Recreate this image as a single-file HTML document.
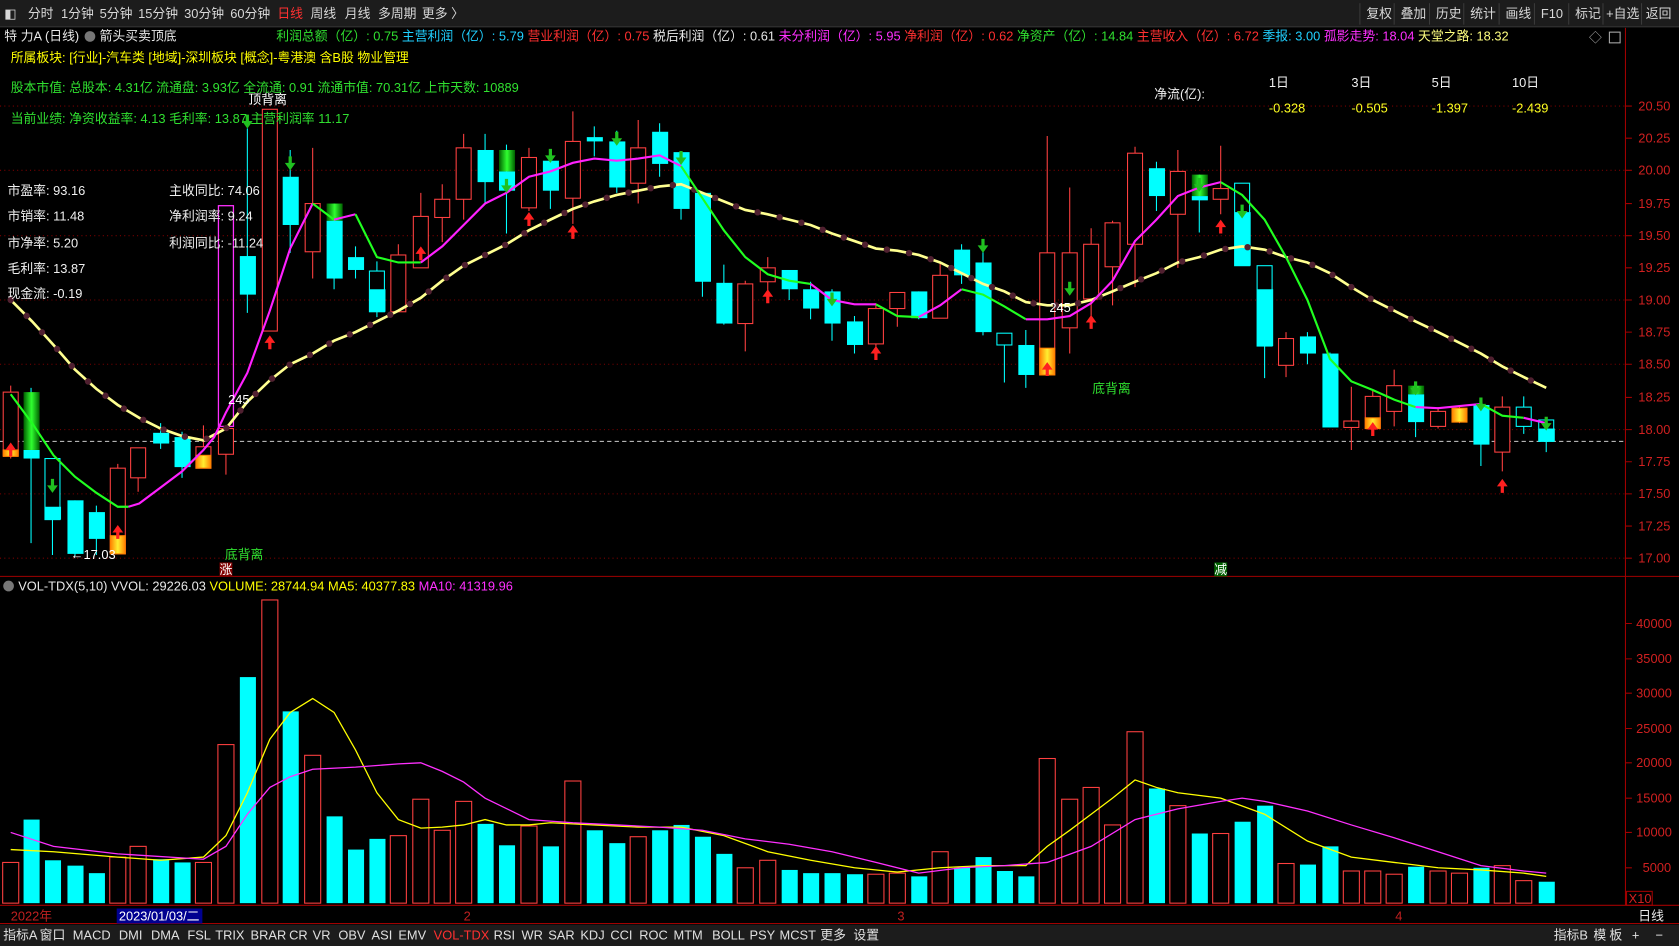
<!DOCTYPE html>
<html><head><meta charset="utf-8">
<style>
html,body{margin:0;padding:0;background:#000;overflow:hidden}
svg{display:block}
text{font-family:"Liberation Sans","Noto Sans CJK SC",sans-serif;font-size:12px}
</style></head>
<body>
<svg width="1679" height="946" viewBox="0 0 1568 883" preserveAspectRatio="none" xmlns="http://www.w3.org/2000/svg">
<defs>
<linearGradient id="gg" x1="0" y1="0" x2="1" y2="0"><stop offset="0" stop-color="#006000"/><stop offset="0.5" stop-color="#30ff30"/><stop offset="1" stop-color="#006000"/></linearGradient>
<linearGradient id="og" x1="0" y1="0" x2="1" y2="0"><stop offset="0" stop-color="#ff8000"/><stop offset="0.5" stop-color="#ffee30"/><stop offset="1" stop-color="#ff8000"/></linearGradient>
</defs>
<rect width="1568" height="883" fill="#000"/>
<!-- top toolbar -->
<rect x="0" y="0" width="1568" height="25" fill="#1c1c1c"/>
<line x1="0" y1="25" x2="1568" y2="25" stroke="#333"/>
<g fill="#d8d8d8">
<text x="4" y="17">◧</text>
<text x="26" y="17">分时</text><text x="57" y="17">1分钟</text><text x="93" y="17">5分钟</text><text x="129" y="17">15分钟</text><text x="172" y="17">30分钟</text><text x="215" y="17">60分钟</text>
<text x="259" y="17" fill="#ff3030">日线</text><text x="290" y="17">周线</text><text x="322" y="17">月线</text><text x="353" y="17">多周期</text><text x="394" y="17">更多 〉</text>
<text x="1276" y="17">复权</text><text x="1308" y="17">叠加</text><text x="1341" y="17">历史</text><text x="1373" y="17">统计</text><text x="1406" y="17">画线</text><text x="1439" y="17">F10</text><text x="1471" y="17">标记</text><text x="1500" y="17">+自选</text><text x="1537" y="17">返回</text>
</g>
<g stroke="#3a3a3a"><line x1="1270" y1="3" x2="1270" y2="23"/><line x1="1302" y1="3" x2="1302" y2="23"/><line x1="1335" y1="3" x2="1335" y2="23"/><line x1="1367" y1="3" x2="1367" y2="23"/><line x1="1400" y1="3" x2="1400" y2="23"/><line x1="1433" y1="3" x2="1433" y2="23"/><line x1="1465" y1="3" x2="1465" y2="23"/><line x1="1497" y1="3" x2="1497" y2="23"/><line x1="1533" y1="3" x2="1533" y2="23"/></g>

<!-- grid -->
<path d="M0,99H1518M0,159H1518M0,220H1518M0,280H1518M0,340H1518M0,401H1518M0,461H1518M0,521H1518" stroke="#7a0000" stroke-dasharray="1,3"/>
<line x1="0" y1="412" x2="1518" y2="412" stroke="#ccc" stroke-dasharray="4,3"/>
<line x1="1518" y1="26" x2="1518" y2="845" stroke="#a00000"/>
<line x1="0" y1="538" x2="1568" y2="538" stroke="#a00000"/>
<line x1="0" y1="845" x2="1568" y2="845" stroke="#a00000"/>
<line x1="0" y1="862" x2="1568" y2="862" stroke="#a00000"/>
<path d="M1518,99h6M1518,129h6M1518,159h6M1518,190h6M1518,220h6M1518,250h6M1518,280h6M1518,310h6M1518,340h6M1518,371h6M1518,401h6M1518,431h6M1518,461h6M1518,491h6M1518,521h6M1518,582h6M1518,615h6M1518,647h6M1518,680h6M1518,712h6M1518,745h6M1518,777h6M1518,810h6" stroke="#a00000"/>
<g fill="#d02020">
<text x="1530" y="103">20.50</text><text x="1530" y="133">20.25</text><text x="1530" y="163">20.00</text><text x="1530" y="194">19.75</text><text x="1530" y="224">19.50</text><text x="1530" y="254">19.25</text><text x="1530" y="284">19.00</text><text x="1530" y="314">18.75</text><text x="1530" y="344">18.50</text><text x="1530" y="375">18.25</text><text x="1530" y="405">18.00</text><text x="1530" y="435">17.75</text><text x="1530" y="465">17.50</text><text x="1530" y="495">17.25</text><text x="1530" y="525">17.00</text>
<text x="1528" y="586">40000</text><text x="1528" y="619">35000</text><text x="1528" y="651">30000</text><text x="1528" y="684">25000</text><text x="1528" y="716">20000</text><text x="1528" y="749">15000</text><text x="1528" y="781">10000</text><text x="1534" y="814">5000</text>
</g>

<!-- volume bars -->
<g fill="none" stroke="#ff4040">
<rect x="2.5" y="805" width="15" height="38"/><rect x="102.5" y="800" width="15" height="43"/><rect x="121.5" y="790" width="15" height="53"/><rect x="182.5" y="805" width="15" height="38"/><rect x="203.5" y="695" width="15" height="148"/><rect x="244.5" y="560" width="15" height="283"/><rect x="284.5" y="705" width="15" height="138"/><rect x="364.5" y="780" width="15" height="63"/><rect x="385.5" y="746" width="15" height="97"/><rect x="405.5" y="775" width="15" height="68"/><rect x="425.5" y="748" width="15" height="95"/><rect x="486.5" y="771" width="15" height="72"/><rect x="527.5" y="729" width="15" height="114"/><rect x="588.5" y="781" width="15" height="62"/><rect x="688.5" y="810" width="15" height="33"/><rect x="709.5" y="803" width="15" height="40"/><rect x="810.5" y="816" width="15" height="27"/><rect x="830.5" y="815" width="15" height="28"/><rect x="870.5" y="795" width="15" height="48"/><rect x="970.5" y="708" width="15" height="135"/><rect x="991.5" y="746" width="15" height="97"/><rect x="1011.5" y="735" width="15" height="108"/><rect x="1031.5" y="770" width="15" height="73"/><rect x="1052.5" y="683" width="15" height="160"/><rect x="1092.5" y="752" width="15" height="91"/><rect x="1132.5" y="778" width="15" height="65"/><rect x="1193.5" y="806" width="15" height="37"/><rect x="1254.5" y="813" width="15" height="30"/><rect x="1274.5" y="813" width="15" height="30"/><rect x="1294.5" y="816" width="15" height="27"/><rect x="1335.5" y="813" width="15" height="30"/><rect x="1355.5" y="815" width="15" height="28"/><rect x="1395.5" y="808" width="15" height="35"/><rect x="1415.5" y="822" width="15" height="21"/>
</g>
<g fill="#00ffff">
<rect x="22" y="765" width="15" height="78"/><rect x="42" y="803" width="15" height="40"/><rect x="63" y="808" width="15" height="35"/><rect x="83" y="815" width="15" height="28"/><rect x="143" y="802" width="15" height="41"/><rect x="163" y="805" width="15" height="38"/><rect x="224" y="632" width="15" height="211"/><rect x="264" y="664" width="15" height="179"/><rect x="305" y="762" width="15" height="81"/><rect x="325" y="793" width="15" height="50"/><rect x="345" y="783" width="15" height="60"/><rect x="446" y="769" width="15" height="74"/><rect x="466" y="789" width="15" height="54"/><rect x="507" y="790" width="15" height="53"/><rect x="548" y="775" width="15" height="68"/><rect x="569" y="787" width="15" height="56"/><rect x="609" y="775" width="15" height="68"/><rect x="629" y="770" width="15" height="73"/><rect x="649" y="781" width="15" height="62"/><rect x="669" y="797" width="15" height="46"/><rect x="730" y="812" width="15" height="31"/><rect x="750" y="815" width="15" height="28"/><rect x="770" y="815" width="15" height="28"/><rect x="791" y="816" width="15" height="27"/><rect x="851" y="818" width="15" height="25"/><rect x="891" y="810" width="15" height="33"/><rect x="911" y="800" width="15" height="43"/><rect x="931" y="813" width="15" height="30"/><rect x="951" y="818" width="15" height="25"/><rect x="1073" y="736" width="15" height="107"/><rect x="1113" y="778" width="15" height="65"/><rect x="1153" y="767" width="15" height="76"/><rect x="1174" y="752" width="15" height="91"/><rect x="1214" y="807" width="15" height="36"/><rect x="1235" y="790" width="15" height="53"/><rect x="1315" y="809" width="15" height="34"/><rect x="1376" y="810" width="15" height="33"/><rect x="1437" y="823" width="15" height="20"/>
</g>
<polyline fill="none" stroke="#ffff00" stroke-width="1.2" points="10,793 50,795 110,800 150,803 190,800 211,780 231,740 252,690 271,665 292,652 312,665 332,700 352,740 372,765 393,773 413,772 433,770 453,765 473,770 494,770 514,768 555,770 596,772 636,772 676,780 717,795 757,803 798,810 838,814 878,810 918,808 958,808 978,790 999,775 1019,760 1039,745 1060,728 1080,735 1100,740 1140,745 1181,760 1221,785 1262,800 1302,805 1343,810 1383,812 1423,815 1444,818"/>
<polyline fill="none" stroke="#ff30ff" stroke-width="1.2" points="10,777 50,790 110,797 190,802 211,790 231,760 252,735 271,725 292,718 332,716 372,713 393,712 413,720 433,730 453,745 494,765 535,768 576,770 616,772 656,775 696,783 737,788 777,795 818,805 858,815 898,810 938,808 978,805 1019,790 1060,765 1100,755 1140,748 1160,745 1181,748 1221,757 1262,770 1302,782 1343,795 1383,808 1423,813 1444,815"/>

<!-- magenta overlay box -->
<rect x="204" y="192" width="14" height="206" fill="none" stroke="#ff30ff" stroke-width="1.2"/>

<!-- wicks -->
<path stroke="#ff4040" fill="none" d="M10,360V428M110,433V517M129,418V459M190,397V437M211,397V443M252,102V309M292,138V260M372,228V291M393,180V250M413,172V226M433,125V205M494,138V197M535,104V209M596,112V190M696,262V328M717,240V280M818,283V330M838,273V305M878,245V297M978,127V350M999,175V330M1019,213V300M1039,206V285M1060,137V268M1100,140V250M1140,136V200M1201,310V352M1262,361V420M1282,365V405M1302,345V398M1343,380V400M1403,370V440M1363,378V395"/>
<path stroke="#00ffff" fill="none" d="M29,362V507M49,428V518M70,467V519M90,472V518M150,395V419M170,403V446M231,120V292M271,140V236M312,190V270M332,230V260M352,244V296M453,125V190M473,135V218M514,145V195M555,118V146M576,122V180M616,115V165M636,142V205M656,180V277M676,247V303M737,252V280M757,263V298M777,270V318M798,295V330M858,272V298M898,228V265M918,230V313M938,311V357M958,308V362M1080,151V197M1120,163V217M1160,171V248M1181,248V353M1221,310V340M1242,329V399M1322,358V408M1383,371V435M1423,370V405M1444,390V422"/>

<!-- red candles -->
<g fill="#000" stroke="#ff4040">
<rect x="3" y="366" width="14" height="59"/><rect x="103" y="437" width="14" height="80"/><rect x="122" y="418" width="14" height="28"/><rect x="183" y="417" width="14" height="20"/><rect x="204" y="400" width="14" height="24"/><rect x="245" y="102" width="14" height="207"/><rect x="285" y="190" width="14" height="45"/><rect x="365" y="238" width="14" height="53"/><rect x="386" y="202" width="14" height="48"/><rect x="406" y="186" width="14" height="17"/><rect x="426" y="138" width="14" height="48"/><rect x="487" y="147" width="14" height="47"/><rect x="528" y="132" width="14" height="53"/><rect x="589" y="138" width="14" height="33"/><rect x="689" y="265" width="14" height="37"/><rect x="710" y="250" width="14" height="13"/><rect x="811" y="288" width="14" height="33"/><rect x="831" y="273" width="14" height="15"/><rect x="871" y="257" width="14" height="40"/><rect x="971" y="236" width="14" height="114"/><rect x="992" y="236" width="14" height="70"/><rect x="1012" y="228" width="14" height="51"/><rect x="1032" y="208" width="14" height="41"/><rect x="1053" y="143" width="14" height="85"/><rect x="1093" y="160" width="14" height="40"/><rect x="1133" y="176" width="14" height="10"/><rect x="1194" y="316" width="14" height="25"/><rect x="1255" y="393" width="14" height="6"/><rect x="1275" y="370" width="14" height="30"/><rect x="1295" y="360" width="14" height="24"/><rect x="1336" y="384" width="14" height="14"/><rect x="1396" y="380" width="14" height="42"/>
</g>
<!-- orange -->
<g fill="url(#og)" stroke="#ff8000">
<rect x="3" y="420" width="14" height="6"/><rect x="103" y="500" width="14" height="17"/><rect x="183" y="425" width="14" height="12"/><rect x="971" y="325" width="14" height="25"/><rect x="1275" y="390" width="14" height="10"/><rect x="1356" y="381" width="14" height="13"/>
</g>
<!-- hollow cyan -->
<g fill="#000" stroke="#00ffff">
<rect x="42" y="428" width="14" height="57"/><rect x="345" y="253" width="14" height="38"/><rect x="931" y="311" width="14" height="11"/><rect x="1153" y="171" width="14" height="77"/><rect x="1174" y="248" width="14" height="75"/><rect x="1416" y="380" width="14" height="18"/><rect x="1437" y="392" width="14" height="20"/>
</g>
<!-- cyan filled -->
<g fill="#00ffff">
<rect x="22" y="420" width="15" height="8"/><rect x="42" y="473" width="15" height="12"/><rect x="63" y="467" width="15" height="50"/><rect x="83" y="478" width="15" height="25"/><rect x="143" y="404" width="15" height="10"/><rect x="163" y="408" width="15" height="28"/><rect x="224" y="239" width="15" height="36"/><rect x="264" y="165" width="15" height="45"/><rect x="305" y="206" width="15" height="54"/><rect x="325" y="240" width="15" height="12"/><rect x="345" y="270" width="15" height="21"/><rect x="446" y="140" width="15" height="30"/><rect x="466" y="160" width="15" height="18"/><rect x="507" y="150" width="15" height="28"/><rect x="548" y="128" width="15" height="4"/><rect x="569" y="132" width="15" height="43"/><rect x="609" y="123" width="15" height="30"/><rect x="629" y="142" width="15" height="53"/><rect x="649" y="180" width="15" height="83"/><rect x="669" y="264" width="15" height="38"/><rect x="730" y="252" width="15" height="18"/><rect x="750" y="270" width="15" height="18"/><rect x="770" y="272" width="15" height="30"/><rect x="791" y="300" width="15" height="22"/><rect x="851" y="272" width="15" height="25"/><rect x="891" y="233" width="15" height="24"/><rect x="911" y="245" width="15" height="65"/><rect x="951" y="322" width="15" height="28"/><rect x="1073" y="157" width="15" height="26"/><rect x="1113" y="183" width="15" height="4"/><rect x="1153" y="198" width="15" height="50"/><rect x="1174" y="270" width="15" height="53"/><rect x="1214" y="314" width="15" height="16"/><rect x="1235" y="330" width="15" height="69"/><rect x="1315" y="368" width="15" height="26"/><rect x="1376" y="378" width="15" height="37"/><rect x="1437" y="400" width="15" height="12"/>
</g>
<!-- green gradient tops -->
<g fill="url(#gg)">
<rect x="22" y="366" width="15" height="54"/><rect x="305" y="190" width="15" height="16"/><rect x="466" y="140" width="15" height="20"/><rect x="1113" y="163" width="15" height="20"/><rect x="1315" y="360" width="15" height="8"/>
</g>

<!-- long MA -->
<polyline fill="none" stroke="#ffff90" stroke-width="2.5" points="10,280 30,300 50,322 70,345 90,363 110,378 130,390 150,400 170,407 190,411 211,400 231,375 252,355 271,340 292,330 312,318 332,310 352,300 372,290 393,278 413,262 433,248 453,238 473,228 494,215 514,205 535,195 555,188 576,182 596,178 616,174 636,172 656,180 676,188 696,196 717,200 737,205 757,210 777,218 798,225 818,232 838,234 858,238 878,245 898,255 918,265 938,272 958,282 978,285 999,285 1019,280 1039,272 1060,263 1080,255 1100,245 1120,240 1140,233 1160,230 1181,233 1201,240 1221,245 1242,255 1262,268 1282,280 1302,290 1322,300 1343,310 1363,320 1383,330 1403,342 1423,352 1444,362"/>
<polyline fill="none" stroke="#502030" stroke-width="6" stroke-linecap="round" stroke-dasharray="0,21" points="10,280 30,300 50,322 70,345 90,363 110,378 130,390 150,400 170,407 190,411 211,400 231,375 252,355 271,340 292,330 312,318 332,310 352,300 372,290 393,278 413,262 433,248 453,238 473,228 494,215 514,205 535,195 555,188 576,182 596,178 616,174 636,172 656,180 676,188 696,196 717,200 737,205 757,210 777,218 798,225 818,232 838,234 858,238 878,245 898,255 918,265 938,272 958,282 978,285 999,285 1019,280 1039,272 1060,263 1080,255 1100,245 1120,240 1140,233 1160,230 1181,233 1201,240 1221,245 1242,255 1262,268 1282,280 1302,290 1322,300 1343,310 1363,320 1383,330 1403,342 1423,352 1444,362"/>
<!-- short MA -->
<g fill="none" stroke-width="2">
<polyline stroke="#20ff20" points="10,368 30,395 50,425 70,445 90,460 110,473 120,473"/>
<polyline stroke="#ff20ff" points="120,473 130,470 150,455 170,440 190,420 200,408 211,385 231,348 252,290 271,232 292,190"/>
<polyline stroke="#20ff20" points="292,190 312,205"/>
<polyline stroke="#ff20ff" points="312,205 332,200"/>
<polyline stroke="#20ff20" points="332,200 352,240 372,245 393,245"/>
<polyline stroke="#ff20ff" points="393,245 413,230 433,210 453,190 473,180 494,165 514,160 535,152 555,148 576,150 596,148 616,145 636,155"/>
<polyline stroke="#20ff20" points="636,155 656,185 676,215 696,240 717,256 737,262 757,265"/>
<polyline stroke="#ff20ff" points="757,265 777,280 798,284 818,284"/>
<polyline stroke="#20ff20" points="818,284 838,295 858,296"/>
<polyline stroke="#ff20ff" points="858,296 878,285 898,270"/>
<polyline stroke="#20ff20" points="898,270 918,275 938,286 958,298"/>
<polyline stroke="#ff20ff" points="958,298 978,298 999,295 1019,283 1039,262 1060,225 1080,205 1100,183 1120,175 1140,170"/>
<polyline stroke="#20ff20" points="1140,170 1160,182 1181,205 1201,240 1221,280 1242,335 1262,356 1282,364 1302,373 1322,380"/>
<polyline stroke="#ff20ff" points="1322,380 1343,381 1363,379 1383,377"/>
<polyline stroke="#20ff20" points="1383,377 1403,388 1423,390"/>
<polyline stroke="#ff20ff" points="1423,390 1444,395"/>
</g>
<!-- arrows -->
<path fill="#ff2020" d="M5,420L10,413L15,420ZM8.5,420h3v6h-3ZM105,497L110,490L115,497ZM108.5,497h3v6h-3ZM247,320L252,313L257,320ZM250.5,320h3v6h-3ZM388,237L393,230L398,237ZM391.5,237h3v6h-3ZM489,205L494,198L499,205ZM492.5,205h3v6h-3ZM530,217L535,210L540,217ZM533.5,217h3v6h-3ZM712,277L717,270L722,277ZM715.5,277h3v6h-3ZM813,330L818,323L823,330ZM816.5,330h3v6h-3ZM973,345L978,338L983,345ZM976.5,345h3v6h-3ZM1014,301L1019,294L1024,301ZM1017.5,301h3v6h-3ZM1135,212L1140,205L1145,212ZM1138.5,212h3v6h-3ZM1277,401L1282,394L1287,401ZM1280.5,401h3v6h-3ZM1398,454L1403,447L1408,454ZM1401.5,454h3v6h-3Z"/>
<path fill="#20c020" d="M47.5,447h3v6h-3ZM44,453L49,460L54,453ZM229.5,107h3v6h-3ZM226,113L231,120L236,113ZM269.5,146h3v6h-3ZM266,152L271,159L276,152ZM471.5,167h3v6h-3ZM468,173L473,180L478,173ZM512.5,139h3v6h-3ZM509,145L514,152L519,145ZM574.5,123h3v6h-3ZM571,129L576,136L581,129ZM634.5,141h3v6h-3ZM631,147L636,154L641,147ZM775.5,273h3v6h-3ZM772,279L777,286L782,279ZM916.5,223h3v6h-3ZM913,229L918,236L923,229ZM997.5,263h3v6h-3ZM994,269L999,276L1004,269ZM1118.5,166h3v6h-3ZM1115,172L1120,179L1125,172ZM1158.5,191h3v6h-3ZM1155,197L1160,204L1165,197ZM1320.5,356h3v6h-3ZM1317,362L1322,369L1327,362ZM1381.5,371h3v6h-3ZM1378,377L1383,384L1388,377ZM1442.5,389h3v6h-3ZM1439,395L1444,402L1449,395Z"/>

<!-- title row -->
<text x="4" y="38" fill="#e8e8e8">特 力A (日线)</text>
<circle cx="84" cy="34" r="5" fill="#777"/>
<text x="93" y="38" fill="#e8e8e8">箭头买卖顶底</text>
<text x="258" y="38"><tspan fill="#30e030">利润总额（亿）: 0.75 </tspan><tspan fill="#20d0ff">主营利润（亿）: 5.79 </tspan><tspan fill="#ff3030">营业利润（亿）: 0.75 </tspan><tspan fill="#e8e8e8">税后利润（亿）: 0.61 </tspan><tspan fill="#ff30ff">未分利润（亿）: 5.95 </tspan><tspan fill="#ff3030">净利润（亿）: 0.62 </tspan><tspan fill="#30e030">净资产（亿）: 14.84 </tspan><tspan fill="#ff3030">主营收入（亿）: 6.72 </tspan><tspan fill="#20d0ff">季报: 3.00 </tspan><tspan fill="#ff30ff">孤影走势: 18.04 </tspan><tspan fill="#ffff80"> 天堂之路: 18.32</tspan></text>
<text x="1484" y="39" fill="#aaa">◇</text>
<rect x="1503" y="30" width="10" height="10" fill="none" stroke="#aaa"/>

<text x="10" y="58" fill="#ffff00">所属板块: [行业]-汽车类 [地域]-深圳板块 [概念]-粤港澳 含B股 物业管理</text>
<text x="10" y="86" fill="#30e030">股本市值: 总股本: 4.31亿 流通盘: 3.93亿 全流通: 0.91 流通市值: 70.31亿 上市天数: 10889</text>
<text x="10" y="115" fill="#30e030">当前业绩:  净资收益率: 4.13 毛利率: 13.87 主营利润率 11.17</text>
<g fill="#f0f0f0">
<text x="7" y="182">市盈率: 93.16</text><text x="7" y="206">市销率: 11.48</text><text x="7" y="231">市净率: 5.20</text><text x="7" y="255">毛利率: 13.87</text><text x="7" y="278">现金流: -0.19</text>
<text x="158" y="182">主收同比: 74.06</text><text x="158" y="206">净利润率: 9.24</text><text x="158" y="231">利润同比: -11.24</text>
<text x="1078" y="92">净流(亿):</text>
<text x="1185" y="81">1日</text><text x="1262" y="81">3日</text><text x="1337" y="81">5日</text><text x="1412" y="81">10日</text>
</g>
<g fill="#ffff20"><text x="1185" y="105">-0.328</text><text x="1262" y="105">-0.505</text><text x="1337" y="105">-1.397</text><text x="1412" y="105">-2.439</text></g>

<text x="232" y="97" fill="#fff">顶背离</text>
<text x="210" y="522" fill="#30e030">底背离</text>
<text x="1020" y="367" fill="#30e030">底背离</text>
<text x="213" y="377" fill="#fff">245</text>
<text x="980" y="291" fill="#fff">245</text>
<text x="66" y="522" fill="#fff">←17.03</text>
<rect x="205" y="525" width="12" height="13" fill="#800000"/><text x="205" y="536" fill="#fff" font-size="11">涨</text>
<rect x="1134" y="525" width="12" height="13" fill="#006000"/><text x="1134" y="536" fill="#fff" font-size="11">减</text>

<!-- vol header -->
<circle cx="8" cy="547" r="5" fill="#777"/>
<text x="17" y="551"><tspan fill="#e8e8e8">VOL-TDX(5,10) VVOL: 29226.03 </tspan><tspan fill="#ffff00"> VOLUME: 28744.94 MA5: 40377.83 </tspan><tspan fill="#ff30ff"> MA10: 41319.96</tspan></text>
<rect x="1519" y="832" width="24" height="13" fill="none" stroke="#a00000"/><text x="1521" y="843" fill="#d02020" font-size="11">X10</text>

<!-- date axis -->
<text x="10" y="859" fill="#c02020">2022年</text>
<rect x="109" y="848" width="80" height="14" fill="#000090"/>
<text x="111" y="859" fill="#fff">2023/01/03/二</text>
<text x="433" y="859" fill="#c02020">2</text>
<text x="838" y="859" fill="#c02020">3</text>
<text x="1303" y="859" fill="#c02020">4</text>
<text x="1530" y="859" fill="#e8e8e8">日线</text>

<!-- bottom toolbar -->
<rect x="0" y="863" width="1568" height="20" fill="#1c1c1c"/>
<g fill="#e0e0e0">
<text x="3" y="877">指标A</text><text x="37" y="877">窗口</text><text x="68" y="877">MACD</text><text x="111" y="877">DMI</text><text x="141" y="877">DMA</text><text x="175" y="877">FSL</text><text x="201" y="877">TRIX</text><text x="234" y="877">BRAR</text><text x="270" y="877">CR</text><text x="292" y="877">VR</text><text x="316" y="877">OBV</text><text x="347" y="877">ASI</text><text x="372" y="877">EMV</text><text x="405" y="877" fill="#ff3030">VOL-TDX</text><text x="461" y="877">RSI</text><text x="487" y="877">WR</text><text x="512" y="877">SAR</text><text x="542" y="877">KDJ</text><text x="570" y="877">CCI</text><text x="597" y="877">ROC</text><text x="629" y="877">MTM</text><text x="665" y="877">BOLL</text><text x="700" y="877">PSY</text><text x="728" y="877">MCST</text><text x="766" y="877">更多</text><text x="797" y="877">设置</text>
<text x="1451" y="877">指标B</text><text x="1488" y="877">模</text><text x="1503" y="877">板</text><text x="1524" y="877">+</text><text x="1546" y="877">−</text>
</g>
</svg>
</body></html>
